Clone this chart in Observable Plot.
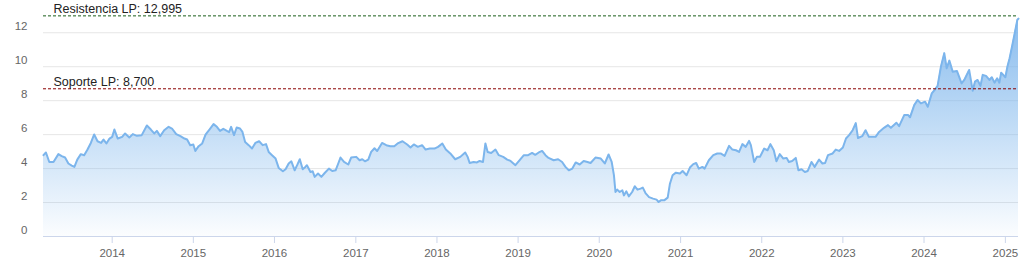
<!DOCTYPE html>
<html><head><meta charset="utf-8">
<script src="https://cdn.jsdelivr.net/npm/d3@7"></script>
<script src="https://cdn.jsdelivr.net/npm/@observablehq/plot@0.6"></script>
<style>body{margin:0;background:#fff} #chart svg{display:block}</style>
</head><body><div id="chart"></div>
<script>
const dates = [
"2013-02-26","2013-03-09","2013-03-24","2013-04-12","2013-05-04","2013-05-19","2013-06-03","2013-06-18","2013-07-03","2013-07-15","2013-07-28","2013-08-13","2013-08-28","2013-09-12","2013-09-27","2013-10-12","2013-10-27","2013-11-12","2013-11-23","2013-12-06","2013-12-20",
"2014-01-01","2014-01-11","2014-01-26","2014-02-15","2014-02-28","2014-03-19","2014-04-04","2014-04-22","2014-05-14","2014-06-06","2014-06-24","2014-07-09","2014-07-21","2014-08-05","2014-08-23","2014-09-12","2014-09-27","2014-10-16","2014-11-04","2014-11-22","2014-12-04","2014-12-18",
"2015-01-01","2015-01-10","2015-01-25","2015-02-10","2015-02-25","2015-03-09","2015-04-02","2015-04-17","2015-05-01","2015-05-16","2015-06-01","2015-06-11","2015-06-20","2015-07-03","2015-07-15","2015-07-30","2015-08-10","2015-08-22","2015-09-07","2015-09-22","2015-10-07","2015-10-24","2015-11-09","2015-11-24","2015-12-06","2015-12-21",
"2016-01-06","2016-01-20","2016-02-08","2016-02-20","2016-03-05","2016-03-17","2016-04-01","2016-04-12","2016-04-24","2016-05-07","2016-05-19","2016-05-26","2016-06-11","2016-06-21","2016-06-30","2016-07-15","2016-07-30","2016-08-14","2016-09-02","2016-09-17","2016-10-02","2016-10-14","2016-10-24","2016-11-09","2016-11-28","2016-12-11",
"2017-01-03","2017-01-18","2017-01-30","2017-02-11","2017-02-26","2017-03-11","2017-03-26","2017-04-07","2017-04-29","2017-05-18","2017-06-05","2017-06-23","2017-07-08","2017-07-30","2017-08-20","2017-09-04","2017-09-19","2017-10-07","2017-10-26","2017-11-11","2017-11-30","2017-12-21",
"2018-01-06","2018-01-25","2018-02-10","2018-03-02","2018-03-24","2018-04-16","2018-05-08","2018-05-19","2018-05-28","2018-06-15","2018-06-30","2018-07-12","2018-07-27","2018-08-07","2018-08-17","2018-09-02","2018-09-21","2018-10-06","2018-10-26","2018-11-13","2018-11-28","2018-12-20",
"2019-01-10","2019-01-27","2019-02-15","2019-03-05","2019-03-19","2019-04-04","2019-04-19","2019-05-04","2019-05-18","2019-06-10","2019-06-30","2019-07-18","2019-08-02","2019-08-17","2019-09-02","2019-09-17","2019-10-05","2019-10-23","2019-11-09","2019-11-23","2019-12-15",
"2020-01-08","2020-01-26","2020-02-12","2020-02-26","2020-03-07","2020-03-14","2020-03-22","2020-04-02","2020-04-14","2020-04-21","2020-05-02","2020-05-13","2020-05-28","2020-06-09","2020-06-21","2020-07-05","2020-07-15","2020-07-27","2020-08-12","2020-08-30","2020-09-15","2020-09-24","2020-10-04","2020-10-19","2020-11-04","2020-11-14","2020-11-26","2020-12-11","2020-12-29",
"2021-01-10","2021-01-28","2021-02-12","2021-02-27","2021-03-12","2021-03-24","2021-04-09","2021-04-19","2021-05-08","2021-05-28","2021-06-15","2021-06-30","2021-07-18","2021-08-07","2021-08-22","2021-09-07","2021-09-21","2021-10-06","2021-10-21","2021-11-05","2021-11-13","2021-11-28","2021-12-10","2021-12-24",
"2022-01-12","2022-01-27","2022-02-09","2022-02-24","2022-03-08","2022-03-23","2022-04-08","2022-04-23","2022-05-03","2022-05-18","2022-06-03","2022-06-15","2022-06-29","2022-07-14","2022-07-27","2022-08-13","2022-08-27","2022-09-16","2022-10-01","2022-10-13","2022-10-26","2022-11-16","2022-11-30","2022-12-15",
"2023-01-01","2023-01-15","2023-01-29","2023-02-14","2023-02-28","2023-03-10","2023-03-29","2023-04-13","2023-04-28","2023-05-28","2023-06-13","2023-07-05","2023-07-23","2023-08-05","2023-08-30","2023-09-11","2023-10-04","2023-10-22","2023-10-30","2023-11-18","2023-12-03","2023-12-18",
"2024-01-06","2024-01-18","2024-02-05","2024-02-20","2024-03-02","2024-03-17","2024-04-01","2024-04-12","2024-04-24","2024-05-09","2024-05-28","2024-06-18","2024-06-30","2024-07-22","2024-08-07","2024-08-17","2024-08-29","2024-09-11","2024-09-21","2024-10-06","2024-10-21","2024-11-01","2024-11-13","2024-11-25","2024-12-05","2024-12-13",
"2025-01-01","2025-01-10","2025-01-20","2025-01-31","2025-02-12","2025-02-24","2025-03-01"
];
const prices = [
4.79,4.95,4.39,4.39,4.85,4.73,4.65,4.30,4.18,4.10,4.53,4.85,4.79,5.12,5.51,6.01,5.61,5.51,5.71,5.48,5.77,
5.87,6.30,5.77,5.87,6.07,5.83,6.03,5.93,5.97,6.54,6.30,6.07,6.22,5.91,6.26,6.46,6.36,6.03,5.91,5.77,5.71,5.38,
5.42,5.04,5.32,5.48,6.00,6.20,6.62,6.46,6.22,6.34,6.22,6.15,6.46,5.97,6.42,6.36,6.16,5.57,5.38,5.18,5.51,5.61,5.38,5.44,4.98,4.79,
4.59,4.04,3.84,3.96,4.30,4.43,3.90,4.20,4.55,3.96,4.10,4.20,3.80,3.84,3.51,3.71,3.51,3.74,4.00,3.86,3.90,4.30,4.65,4.39,4.24,4.65,
4.69,4.49,4.55,4.43,4.53,4.98,5.20,5.04,5.51,5.38,5.32,5.32,5.48,5.61,5.42,5.24,5.42,5.28,5.38,5.12,5.18,5.18,
5.28,5.48,5.12,4.89,4.55,4.69,4.95,4.69,4.33,4.39,4.36,4.45,4.39,5.48,4.98,4.92,5.12,4.79,4.69,4.53,4.45,4.20,
4.53,4.79,4.79,4.92,4.81,4.95,5.04,4.79,4.63,4.49,4.55,4.39,4.10,3.90,4.00,4.36,4.24,4.45,4.39,4.33,4.65,
4.59,4.30,4.83,4.39,3.61,2.62,2.76,2.62,2.72,2.42,2.66,2.36,2.62,2.96,2.76,2.82,2.88,2.56,2.32,2.23,2.17,2.03,2.13,2.13,2.29,3.11,3.61,3.76,3.71,
3.86,3.61,4.06,4.26,4.33,4.00,4.10,4.00,4.49,4.79,4.89,4.89,4.75,5.34,5.12,5.08,4.98,5.44,5.28,5.63,5.38,4.39,4.69,4.69,
5.18,5.08,5.44,5.08,4.43,4.85,4.59,4.63,4.39,4.45,4.63,3.90,3.96,3.80,3.86,4.39,4.10,4.53,4.30,4.33,4.79,4.89,5.12,5.04,
5.24,5.77,5.97,6.26,6.68,5.80,5.91,6.26,5.87,5.87,6.16,6.40,6.56,6.40,6.70,6.50,7.15,7.15,7.02,7.74,8.04,7.84,
7.94,7.64,8.43,8.67,8.87,10.00,10.80,9.91,10.36,9.71,9.75,9.02,9.22,9.81,8.59,9.12,9.22,8.87,9.52,9.46,9.22,9.38,9.06,9.32,9.06,9.65,
9.38,10.00,10.50,11.19,11.98,12.77,12.83
];
const yTicks = [0, 2, 4, 6, 8, 10, 12];
const yearTicks = [2014, 2015, 2016, 2017, 2018, 2019, 2020, 2021, 2022, 2023, 2024, 2025];
const levelValues = [12.995, 8.7];
const levelLabels = ["Resistencia LP: 12,995", "Soporte LP: 8,700"];
const levelColors = ["#1a5e1a", "#8b0000"];

const data = dates.map((d, i) => ({date: new Date(d), value: prices[i]}));
const levels = levelValues.map((v, i) => ({value: v, label: levelLabels[i], color: levelColors[i]}));
const xStart = data[0].date, xEnd = data[data.length - 1].date;

const chart = Plot.plot({
  width: 1022, height: 269,
  marginLeft: 43, marginRight: 4, marginTop: 0, marginBottom: 33,
  style: {fontFamily: "'Liberation Sans', Arial, sans-serif", background: "#fff"},
  x: {type: "utc", domain: [xStart, xEnd]},
  y: {domain: [0, 13.9]},
  color: {type: "identity"},
  marks: [
    Plot.gridY(yTicks.slice(1), {stroke: "#e6e6e6", strokeOpacity: 1}),
    Plot.areaY(data, {x: "date", y: "value", fill: "url(#areaGrad)"}),
    Plot.ruleY([0], {stroke: "#ccd6eb"}),
    Plot.lineY(data, {x: "date", y: "value", stroke: "#7cb5ec", strokeWidth: 2, strokeLinejoin: "round"}),
    Plot.ruleY(levels, {y: "value", stroke: "color", strokeDasharray: "3,2"}),
    Plot.text(levels, {y: "value", text: "label", frameAnchor: "left", textAnchor: "start", lineAnchor: "bottom", dx: 10, dy: -3, fill: "#222", fontSize: 12.5}),
    Plot.axisX(yearTicks.map(y => new Date(Date.UTC(y, 0, 1))), {tickSize: 7, tickPadding: 5, stroke: "#ccd6eb", fill: "#666", fontSize: 11.5, tickFormat: d3.utcFormat("%Y"), label: null}),
    Plot.axisY(yTicks, {tickSize: 0, tickPadding: 16, dy: -6, fill: "#666", fontSize: 11.5, label: null})
  ]
});
document.getElementById("chart").appendChild(chart);
const svg = d3.select(chart.tagName.toLowerCase() === "svg" ? chart : chart.querySelector("svg"));
const defs = svg.insert("defs", ":first-child");
const grad = defs.append("linearGradient").attr("id", "areaGrad").attr("x1", 0).attr("y1", 0).attr("x2", 0).attr("y2", 1);
grad.append("stop").attr("offset", 0).attr("stop-color", "#7cb5ec").attr("stop-opacity", 0.9);
grad.append("stop").attr("offset", 1).attr("stop-color", "#7cb5ec").attr("stop-opacity", 0.03);
</script>
</body></html>
